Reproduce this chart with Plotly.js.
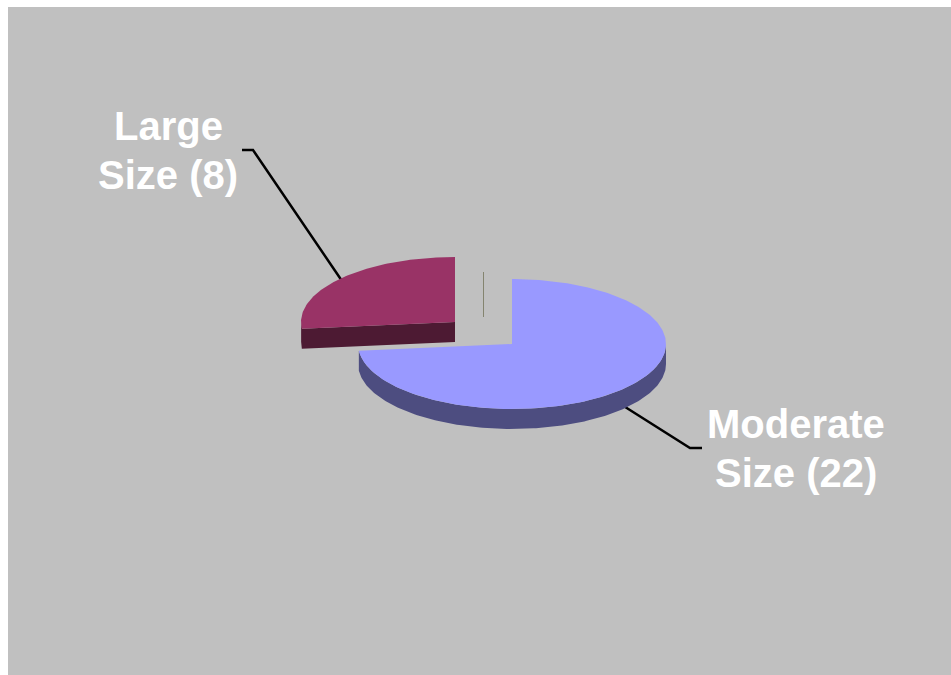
<!DOCTYPE html>
<html>
<head>
<meta charset="utf-8">
<script src="https://cdn.plot.ly/plotly-3.0.1.min.js"></script>
<style>html,body{margin:0;padding:0;background:#fff;overflow:hidden}#chart{width:951px;height:675px}</style>
</head>
<body>
<div id="chart"></div>
<script>
// Company counts by size class
const categories = ["Moderate", "Large"];
const counts = [22, 8];
const topColors = ["#9999FF", "#993366"];
const wallColors = ["#4D4D80", "#4D1A33"];

// Pie geometry on a page-sized coordinate system
const radiusX = 154, radiusY = 65, depth = 20;
const centers = [[512, 344], [455, 322]];

const total = counts.reduce((a, b) => a + b, 0);

// Angle is measured clockwise from twelve o'clock, flattened into an ellipse
function rim(c, deg) {
  const t = deg * Math.PI / 180;
  return [c[0] + radiusX * Math.sin(t), c[1] - radiusY * Math.cos(t)];
}
function arc(c, from, to) {
  const pts = [];
  const steps = Math.max(2, Math.ceil(Math.abs(to - from)));
  for (let i = 0; i <= steps; i++) pts.push(rim(c, from + (to - from) * i / steps));
  return pts;
}
function polygon(pts, color) {
  return {
    x: pts.map(p => p[0]), y: pts.map(p => p[1]),
    mode: "lines", fill: "toself", fillcolor: color,
    line: {width: 0, color: color}, hoverinfo: "skip", showlegend: false
  };
}
function leader(xs, ys) {
  return {x: xs, y: ys, mode: "lines", line: {color: "#000", width: 2.5},
          hoverinfo: "skip", showlegend: false};
}

const traces = [
  leader([242, 253, 342], [150, 150, 281]),
  leader([622, 690, 702], [405, 448, 448]),
  {x: [483.5, 483.5], y: [272, 317], mode: "lines",
   line: {color: "#84846F", width: 1}, hoverinfo: "skip", showlegend: false}
];

// Slices, each with its wall under the top face
let start = 0;
categories.forEach((name, i) => {
  const sweep = 360 * counts[i] / total;
  const end = start + sweep;
  const c = centers[i];
  const top = [c].concat(arc(c, start, end));

  // Outer wall: only the part of the rim facing the viewer
  const from = Math.max(start, 90), to = Math.min(end, 270);
  if (to > from) {
    const upper = arc(c, from, to);
    const lower = upper.slice().reverse().map(p => [p[0], p[1] + depth]);
    traces.push(polygon(upper.concat(lower), wallColors[i]));
  }
  // Cut face that turns toward the viewer on the slice starting left of the bottom
  if (start > 180) {
    const a = rim(c, start);
    traces.push(polygon([c, a, [a[0], a[1] + depth], [c[0], c[1] + depth]], wallColors[i]));
  }
  traces.push(polygon(top, topColors[i]));
  start = end;
});

const labelFont = {family: "Liberation Sans, Arial, sans-serif", size: 40, color: "#FFFFFF"};
const textLine = (x, y, text) => ({x, y, text: `<b>${text}</b>`, showarrow: false, font: labelFont});

const layout = {
  width: 951, height: 675,
  margin: {l: 0, r: 0, t: 0, b: 0},
  paper_bgcolor: "#FFFFFF", plot_bgcolor: "#FFFFFF",
  showlegend: false,
  xaxis: {range: [0, 951], visible: false, fixedrange: true},
  yaxis: {range: [675, 0], visible: false, fixedrange: true},
  shapes: [{type: "rect", layer: "below", x0: 8, x1: 951, y0: 7, y1: 675,
            fillcolor: "#C0C0C0", line: {width: 0}}],
  annotations: [
    textLine(796, 424, categories[0]),
    textLine(796, 473, `Size (${counts[0]})`),
    textLine(168, 126, categories[1]),
    textLine(168, 175, `Size (${counts[1]})`)
  ]
};

Plotly.newPlot("chart", traces, layout, {displayModeBar: false, staticPlot: true});
</script>
</body>
</html>
